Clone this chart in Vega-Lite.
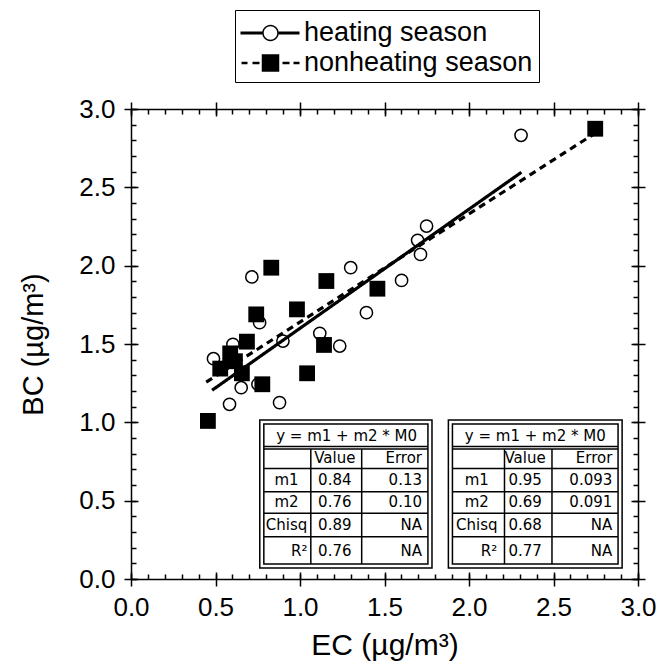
{
  "$schema": "https://vega.github.io/schema/vega-lite/v6.json",
  "width": 507,
  "height": 470,
  "autosize": {"type": "none"},
  "padding": {"left": 131, "top": 109, "right": 30, "bottom": 92},
  "background": "white",
  "config": {
    "view": {"stroke": null},
    "axis": {
      "grid": false,
      "domainColor": "black",
      "tickColor": "black",
      "labelColor": "black",
      "titleColor": "black",
      "labelFont": "Liberation Sans",
      "titleFont": "Liberation Sans",
      "labelFontSize": 26,
      "titleFontSize": 30,
      "titleFontWeight": "normal",
      "domainWidth": 1.5,
      "tickWidth": 1.5,
      "labelFlush": false,
      "labelOverlap": false,
      "labelBound": false
    }
  },
  "datasets": {
    "pts": [
      {"season": "heating season", "EC": 2.308, "BC": 2.832},
      {"season": "heating season", "EC": 1.749, "BC": 2.253},
      {"season": "heating season", "EC": 1.696, "BC": 2.162},
      {"season": "heating season", "EC": 1.713, "BC": 2.072},
      {"season": "heating season", "EC": 1.300, "BC": 1.987},
      {"season": "heating season", "EC": 1.601, "BC": 1.906},
      {"season": "heating season", "EC": 0.715, "BC": 1.928},
      {"season": "heating season", "EC": 1.393, "BC": 1.700},
      {"season": "heating season", "EC": 0.761, "BC": 1.636},
      {"season": "heating season", "EC": 1.117, "BC": 1.568},
      {"season": "heating season", "EC": 0.899, "BC": 1.519},
      {"season": "heating season", "EC": 1.235, "BC": 1.487},
      {"season": "heating season", "EC": 0.603, "BC": 1.498},
      {"season": "heating season", "EC": 0.488, "BC": 1.406},
      {"season": "heating season", "EC": 0.879, "BC": 1.126},
      {"season": "heating season", "EC": 0.583, "BC": 1.115},
      {"season": "heating season", "EC": 0.652, "BC": 1.221},
      {"season": "heating season", "EC": 0.751, "BC": 1.243},
      {"season": "nonheating season", "EC": 2.747, "BC": 2.874},
      {"season": "nonheating season", "EC": 0.830, "BC": 1.987},
      {"season": "nonheating season", "EC": 1.156, "BC": 1.902},
      {"season": "nonheating season", "EC": 1.458, "BC": 1.853},
      {"season": "nonheating season", "EC": 0.982, "BC": 1.721},
      {"season": "nonheating season", "EC": 0.741, "BC": 1.689},
      {"season": "nonheating season", "EC": 1.142, "BC": 1.494},
      {"season": "nonheating season", "EC": 1.042, "BC": 1.313},
      {"season": "nonheating season", "EC": 0.777, "BC": 1.243},
      {"season": "nonheating season", "EC": 0.455, "BC": 1.009},
      {"season": "nonheating season", "EC": 0.686, "BC": 1.515},
      {"season": "nonheating season", "EC": 0.587, "BC": 1.440},
      {"season": "nonheating season", "EC": 0.528, "BC": 1.343},
      {"season": "nonheating season", "EC": 0.656, "BC": 1.313},
      {"season": "nonheating season", "EC": 0.615, "BC": 1.390}
    ],
    "fits": [
      {"season": "heating season", "EC": 0.48, "BC": 1.205},
      {"season": "heating season", "EC": 2.31, "BC": 2.596},
      {"season": "nonheating season", "EC": 0.445, "BC": 1.257},
      {"season": "nonheating season", "EC": 2.75, "BC": 2.848}
    ],
    "frames": [
      {"x0": 0.762, "x1": 1.781, "y0": 0.070, "y1": 1.015},
      {"x0": 0.786, "x1": 1.757, "y0": 0.095, "y1": 0.990},
      {"x0": 1.878, "x1": 2.906, "y0": 0.070, "y1": 1.015},
      {"x0": 1.902, "x1": 2.882, "y0": 0.095, "y1": 0.990}
    ],
    "gridlines": [
      {"x0": 0.786, "x1": 1.757, "y0": 0.846, "y1": 0.846},
      {"x0": 0.786, "x1": 1.757, "y0": 0.829, "y1": 0.829},
      {"x0": 0.786, "x1": 1.757, "y0": 0.706, "y1": 0.706},
      {"x0": 0.786, "x1": 1.757, "y0": 0.557, "y1": 0.557},
      {"x0": 0.786, "x1": 1.757, "y0": 0.419, "y1": 0.419},
      {"x0": 0.786, "x1": 1.757, "y0": 0.270, "y1": 0.270},
      {"x0": 1.064, "x1": 1.064, "y0": 0.095, "y1": 0.829},
      {"x0": 1.365, "x1": 1.365, "y0": 0.095, "y1": 0.829},
      {"x0": 1.902, "x1": 2.882, "y0": 0.846, "y1": 0.846},
      {"x0": 1.902, "x1": 2.882, "y0": 0.829, "y1": 0.829},
      {"x0": 1.902, "x1": 2.882, "y0": 0.706, "y1": 0.706},
      {"x0": 1.902, "x1": 2.882, "y0": 0.557, "y1": 0.557},
      {"x0": 1.902, "x1": 2.882, "y0": 0.419, "y1": 0.419},
      {"x0": 1.902, "x1": 2.882, "y0": 0.270, "y1": 0.270},
      {"x0": 2.210, "x1": 2.210, "y0": 0.095, "y1": 0.829},
      {"x0": 2.491, "x1": 2.491, "y0": 0.095, "y1": 0.829}
    ],
    "cells": [
      {"col": "header", "x": 1.276, "y": 0.914, "text": "y = m1 + m2 * M0"},
      {"col": "value", "x": 1.206, "y": 0.770, "text": "Value"},
      {"col": "error", "x": 1.722, "y": 0.770, "text": "Error"},
      {"col": "label", "x": 0.920, "y": 0.632, "text": "m1"},
      {"col": "value", "x": 1.206, "y": 0.632, "text": "0.84"},
      {"col": "error", "x": 1.722, "y": 0.632, "text": "0.13"},
      {"col": "label", "x": 0.920, "y": 0.489, "text": "m2"},
      {"col": "value", "x": 1.206, "y": 0.489, "text": "0.76"},
      {"col": "error", "x": 1.722, "y": 0.489, "text": "0.10"},
      {"col": "label", "x": 0.920, "y": 0.345, "text": "Chisq"},
      {"col": "value", "x": 1.206, "y": 0.345, "text": "0.89"},
      {"col": "error", "x": 1.722, "y": 0.345, "text": "NA"},
      {"col": "rlabel", "x": 1.044, "y": 0.179, "text": "R²"},
      {"col": "value", "x": 1.206, "y": 0.179, "text": "0.76"},
      {"col": "error", "x": 1.722, "y": 0.179, "text": "NA"},
      {"col": "header", "x": 2.392, "y": 0.914, "text": "y = m1 + m2 * M0"},
      {"col": "value", "x": 2.332, "y": 0.770, "text": "Value"},
      {"col": "error", "x": 2.848, "y": 0.770, "text": "Error"},
      {"col": "label", "x": 2.046, "y": 0.632, "text": "m1"},
      {"col": "value", "x": 2.332, "y": 0.632, "text": "0.95"},
      {"col": "error", "x": 2.848, "y": 0.632, "text": "0.093"},
      {"col": "label", "x": 2.046, "y": 0.489, "text": "m2"},
      {"col": "value", "x": 2.332, "y": 0.489, "text": "0.69"},
      {"col": "error", "x": 2.848, "y": 0.489, "text": "0.091"},
      {"col": "label", "x": 2.046, "y": 0.345, "text": "Chisq"},
      {"col": "value", "x": 2.332, "y": 0.345, "text": "0.68"},
      {"col": "error", "x": 2.848, "y": 0.345, "text": "NA"},
      {"col": "rlabel", "x": 2.167, "y": 0.179, "text": "R²"},
      {"col": "value", "x": 2.332, "y": 0.179, "text": "0.77"},
      {"col": "error", "x": 2.848, "y": 0.179, "text": "NA"}
    ]
  },
  "resolve": {
    "axis": {"x": "independent", "y": "independent"},
    "scale": {"shape": "independent"}
  },
  "layer": [
    {
      "data": {"name": "frames"},
      "mark": {"type": "rect", "fill": "white", "stroke": "black", "strokeWidth": 1.5},
      "encoding": {
        "x": {"field": "x0", "type": "quantitative", "scale": {"domain": [0, 3], "nice": false, "zero": false},
          "axis": {"orient": "bottom", "values": [0, 0.5, 1, 1.5, 2, 2.5, 3], "offset": -7, "tickSize": 14, "domain": false, "format": ".1f", "labelPadding": 8, "title": "EC (µg/m³)", "titlePadding": 10}},
        "x2": {"field": "x1"},
        "y": {"field": "y0", "type": "quantitative", "scale": {"domain": [0, 3], "nice": false, "zero": false},
          "axis": {"orient": "left", "values": [0, 0.5, 1, 1.5, 2, 2.5, 3], "offset": -7, "tickSize": 14, "domain": false, "format": ".1f", "labelPadding": 9, "title": "BC (µg/m³)", "titlePadding": 30, "titleFontSize": 29}},
        "y2": {"field": "y1"}
      }
    },
    {
      "data": {"name": "gridlines"},
      "mark": {"type": "rule", "color": "black", "strokeWidth": 1.5},
      "encoding": {
        "x": {"field": "x0", "type": "quantitative", "scale": {"domain": [0, 3], "nice": false, "zero": false},
          "axis": {"orient": "bottom", "values": [0,0.1,0.2,0.3,0.4,0.5,0.6,0.7,0.8,0.9,1,1.1,1.2,1.3,1.4,1.5,1.6,1.7,1.8,1.9,2,2.1,2.2,2.3,2.4,2.5,2.6,2.7,2.8,2.9,3], "tickSize": -5, "labels": false, "title": null}},
        "x2": {"field": "x1"},
        "y": {"field": "y0", "type": "quantitative", "scale": {"domain": [0, 3], "nice": false, "zero": false},
          "axis": {"orient": "left", "values": [0,0.1,0.2,0.3,0.4,0.5,0.6,0.7,0.8,0.9,1,1.1,1.2,1.3,1.4,1.5,1.6,1.7,1.8,1.9,2,2.1,2.2,2.3,2.4,2.5,2.6,2.7,2.8,2.9,3], "tickSize": -5, "labels": false, "title": null}},
        "y2": {"field": "y1"}
      }
    },
    {
      "data": {"name": "cells"},
      "transform": [{"filter": "datum.col == 'header' || datum.col == 'value' || datum.col == 'label'"}],
      "mark": {"type": "text", "font": "DejaVu Sans", "fontSize": 15, "color": "black", "align": "center", "baseline": "middle"},
      "encoding": {
        "x": {"field": "x", "type": "quantitative", "scale": {"domain": [0, 3], "nice": false, "zero": false},
          "axis": {"orient": "top", "values": [0, 0.5, 1, 1.5, 2, 2.5, 3], "offset": -7, "tickSize": 14, "domain": false, "labels": false, "title": null}},
        "y": {"field": "y", "type": "quantitative", "scale": {"domain": [0, 3], "nice": false, "zero": false},
          "axis": {"orient": "right", "values": [0, 0.5, 1, 1.5, 2, 2.5, 3], "offset": -7, "tickSize": 14, "domain": false, "labels": false, "title": null}},
        "text": {"field": "text", "type": "nominal"}
      }
    },
    {
      "data": {"name": "cells"},
      "transform": [{"filter": "datum.col == 'error' || datum.col == 'rlabel'"}],
      "mark": {"type": "text", "font": "DejaVu Sans", "fontSize": 15, "color": "black", "align": "right", "baseline": "middle"},
      "encoding": {
        "x": {"field": "x", "type": "quantitative", "scale": {"domain": [0, 3], "nice": false, "zero": false}, "axis": null},
        "y": {"field": "y", "type": "quantitative", "scale": {"domain": [0, 3], "nice": false, "zero": false}, "axis": null},
        "text": {"field": "text", "type": "nominal"}
      }
    },
    {
      "data": {"name": "fits"},
      "mark": {"type": "line", "color": "black", "strokeWidth": 3.2},
      "encoding": {
        "x": {"field": "EC", "type": "quantitative", "scale": {"domain": [0, 3], "nice": false, "zero": false},
          "axis": {"orient": "top", "values": [0,0.1,0.2,0.3,0.4,0.5,0.6,0.7,0.8,0.9,1,1.1,1.2,1.3,1.4,1.5,1.6,1.7,1.8,1.9,2,2.1,2.2,2.3,2.4,2.5,2.6,2.7,2.8,2.9,3], "tickSize": -5, "labels": false, "title": null}},
        "y": {"field": "BC", "type": "quantitative", "scale": {"domain": [0, 3], "nice": false, "zero": false},
          "axis": {"orient": "right", "values": [0,0.1,0.2,0.3,0.4,0.5,0.6,0.7,0.8,0.9,1,1.1,1.2,1.3,1.4,1.5,1.6,1.7,1.8,1.9,2,2.1,2.2,2.3,2.4,2.5,2.6,2.7,2.8,2.9,3], "tickSize": -5, "labels": false, "title": null}},
        "strokeDash": {"field": "season", "type": "nominal", "scale": {"domain": ["heating season", "nonheating season"], "range": [[1, 0], [7, 5]]}, "legend": null}
      }
    },
    {
      "data": {"name": "pts"},
      "transform": [{"filter": "datum.season == 'heating season'"}],
      "mark": {"type": "point", "shape": "circle", "size": 150, "filled": false, "stroke": "black", "strokeWidth": 1.5, "opacity": 1},
      "encoding": {
        "x": {"field": "EC", "type": "quantitative", "scale": {"domain": [0, 3], "nice": false, "zero": false}, "axis": null},
        "y": {"field": "BC", "type": "quantitative", "scale": {"domain": [0, 3], "nice": false, "zero": false}, "axis": null}
      }
    },
    {
      "data": {"name": "pts"},
      "transform": [{"filter": "datum.season == 'nonheating season'"}],
      "mark": {"type": "square", "size": 250, "filled": true, "color": "black", "opacity": 1},
      "encoding": {
        "x": {"field": "EC", "type": "quantitative", "scale": {"domain": [0, 3], "nice": false, "zero": false}, "axis": null},
        "y": {"field": "BC", "type": "quantitative", "scale": {"domain": [0, 3], "nice": false, "zero": false}, "axis": null}
      }
    },
    {
      "data": {"name": "pts"},
      "transform": [{"filter": "datum.EC > 100"}],
      "mark": {"type": "point", "filled": true, "opacity": 1, "color": "black"},
      "encoding": {
        "x": {"field": "EC", "type": "quantitative", "scale": {"domain": [0, 3], "nice": false, "zero": false}, "axis": null},
        "y": {"field": "BC", "type": "quantitative", "scale": {"domain": [0, 3], "nice": false, "zero": false}, "axis": null},
        "shape": {"field": "season", "type": "nominal",
          "scale": {"domain": ["heating season", "nonheating season"], "range": [
            "M-1.045,-0.09H0.253V0.09H-1.045Z M1.239,-0.09H2.478V0.09H1.239Z M0.253,0A0.493,0.493 0 1,1 1.239,0A0.493,0.493 0 1,1 0.253,0Z M0.343,0A0.403,0.403 0 1,0 1.149,0A0.403,0.403 0 1,0 0.343,0Z",
            "M-0.985,-0.075H-0.627V0.075H-0.985Z M-0.328,-0.075H0.09V0.075H-0.328Z M0.224,-0.52H1.269V0.52H0.224Z M1.463,-0.075H1.881V0.075H1.463Z M2.119,-0.075H2.478V0.075H2.119Z"]},
          "legend": {"orient": "none", "legendX": 104, "legendY": -99, "direction": "vertical", "title": null, "strokeColor": "black", "padding": 6, "labelFont": "Liberation Sans", "labelFontSize": 27, "labelColor": "black", "labelLimit": 400, "symbolSize": 1122, "symbolFillColor": "black", "symbolStrokeWidth": 0, "symbolOpacity": 1, "labelOffset": 29, "rowPadding": -5}}
      }
    }
  ]
}
